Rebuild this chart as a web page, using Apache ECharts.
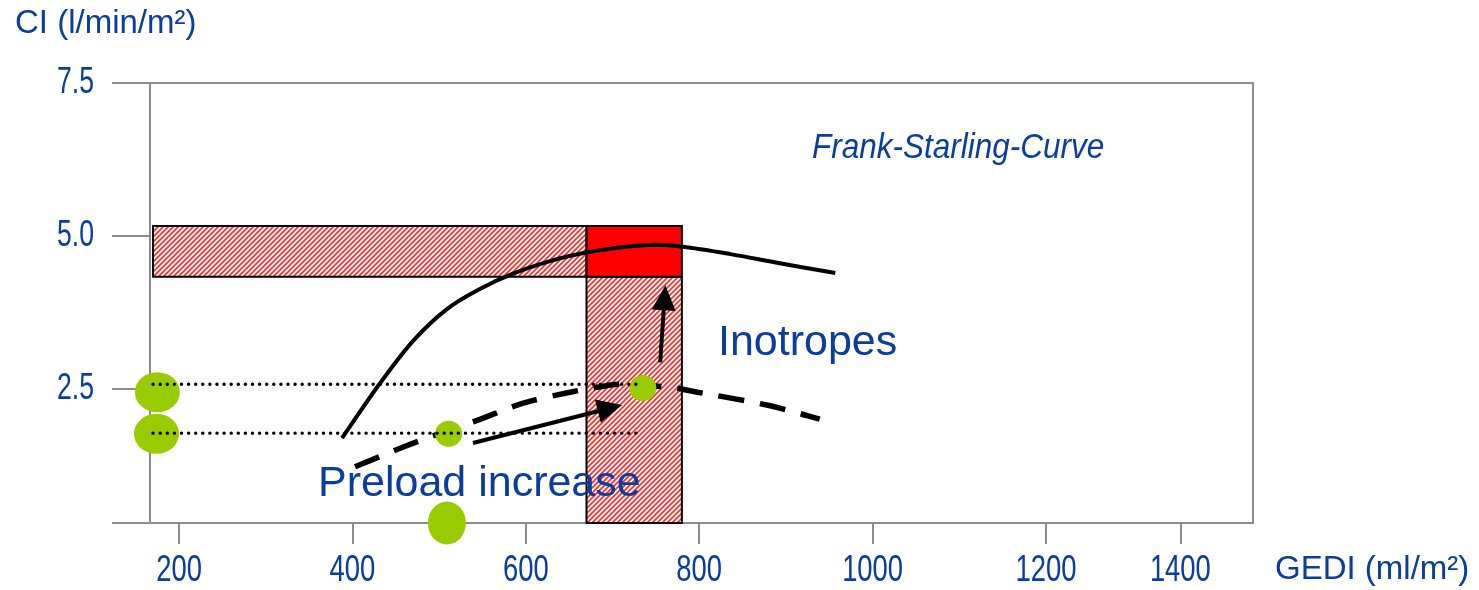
<!DOCTYPE html>
<html><head><meta charset="utf-8">
<script src="https://cdn.jsdelivr.net/npm/echarts@6/dist/echarts.min.js"></script>
<style>html,body{margin:0;padding:0;background:#fff}#c{width:1479px;height:590px}</style>
</head><body><div id="c"></div>
<script>
// ---- data ----
const gediTickValues = [200, 400, 600, 800, 1000, 1200, 1355];
const gediTickLabels = ['200', '400', '600', '800', '1000', '1200', '1400'];
const ciTickValues = [2.5, 5.0, 7.5];
const ciTickLabels = ['2.5', '5.0', '7.5'];

// Frank-Starling curve (normal contractility)
const normalGedi = [388, 432, 470, 509, 547, 585, 624, 671, 740, 781, 836, 893, 957];
const normalCI   = [1.69, 2.59, 3.28, 3.80, 4.13, 4.38, 4.57, 4.73, 4.85, 4.82, 4.70, 4.55, 4.39];
// depressed contractility curve (dashed)
const depressedGedi = [403, 458, 490, 544, 597, 651, 682, 712, 766, 798, 878, 939];
const depressedCI   = [1.22, 1.54, 1.71, 1.98, 2.26, 2.44, 2.52, 2.57, 2.52, 2.44, 2.23, 2.00];

// normal range boxes
const boxGediFrom = [170, 670, 670];
const boxGediTo   = [670, 780, 780];
const boxCIFrom   = [4.33, 0.3, 4.33];
const boxCITo     = [5.16, 4.33, 5.16];
const boxFill     = ['hatch', 'hatch', 'solid'];

// operating points
const pointGedi = [511, 735];
const pointCI   = [1.76, 2.51];
// projections on CI axis
const ciProjGedi = [175, 174];
const ciProjCI   = [2.44, 1.76];
// projection on GEDI axis
const gediProjGedi = [509];
const gediProjCI   = [0.3];

// dotted reference levels
const levelCI = [2.57, 1.77];
const levelGediFrom = [170, 170];
const levelGediTo = [735, 735];

// arrows
const arrowGediFrom = [539, 755];
const arrowCIFrom   = [1.61, 2.93];
const arrowGediTo   = [711, 761];
const arrowCITo     = [2.23, 4.19];

// ---- styling helpers ----
const BLUE = '#0a3d9c';
const GRAY = '#8c8c8c';
const GREEN = '#99cc00';
const SANS = "'Liberation Sans', Arial, sans-serif";

function hatchCanvas() {
  const p = 5;
  const c = document.createElement('canvas');
  c.width = p; c.height = p;
  const g = c.getContext('2d');
  g.fillStyle = '#ffffff'; g.fillRect(0, 0, p, p);
  g.strokeStyle = '#ff2a2a'; g.lineWidth = 1.6;
  g.beginPath();
  g.moveTo(-1, p + 1); g.lineTo(p + 1, -1);
  g.moveTo(-1, 1); g.lineTo(1, -1);
  g.moveTo(p - 1, p + 1); g.lineTo(p + 1, p - 1);
  g.stroke();
  return c;
}
const hatchPattern = { image: hatchCanvas(), repeat: 'repeat' };

const zip = (a, b) => a.map((v, i) => [v, b[i]]);

// Catmull-Rom spline through the projected points (drawing only)
function splinePath(pts) {
  let d = 'M' + pts[0][0] + ' ' + pts[0][1];
  for (let i = 0; i < pts.length - 1; i++) {
    const p0 = pts[Math.max(i - 1, 0)], p1 = pts[i], p2 = pts[i + 1], p3 = pts[Math.min(i + 2, pts.length - 1)];
    const c1 = [p1[0] + (p2[0] - p0[0]) / 6, p1[1] + (p2[1] - p0[1]) / 6];
    const c2 = [p2[0] - (p3[0] - p1[0]) / 6, p2[1] - (p3[1] - p1[1]) / 6];
    d += ' C' + c1[0] + ' ' + c1[1] + ' ' + c2[0] + ' ' + c2[1] + ' ' + p2[0] + ' ' + p2[1];
  }
  return d;
}
function curveSeries(xs, ys, lineStyle) {
  return {
    type: 'custom', z: 4, silent: true,
    encode: { x: 0, y: 1 },
    data: [[xs[0], ys[0]]],
    renderItem: (params, api) => {
      const pts = xs.map((x, i) => api.coord([x, ys[i]]));
      return { type: 'path', shape: { pathData: splinePath(pts) }, style: Object.assign({ fill: 'none', stroke: '#000' }, lineStyle) };
    }
  };
}

const boxData = boxGediFrom.map((v, i) => [v, boxGediTo[i], boxCIFrom[i], boxCITo[i]]);
const levelSeries = levelCI.map((c, i) => ({
  type: 'line', z: 6, symbol: 'none', silent: true,
  data: [[levelGediFrom[i], c], [levelGediTo[i], c]],
  lineStyle: { color: '#000', width: 3.4, type: [0.1, 7], cap: 'round' }
}));
const arrowData = arrowGediFrom.map((v, i) => [v, arrowCIFrom[i], arrowGediTo[i], arrowCITo[i]]);

const baseGraphic = [
  { type: 'text', left: 15, top: 7, style: { text: 'CI (l/min/m²)', fill: BLUE, font: '33px ' + SANS } },
  { type: 'text', left: 1275, top: 553, style: { text: 'GEDI (ml/m²)', fill: BLUE, font: '33px ' + SANS } },
  { type: 'text', x: 812, y: 148, scaleX: 0.9, style: { text: 'Frank-Starling-Curve', x: 0, y: 0, verticalAlign: 'middle', fill: BLUE, font: 'italic 35px ' + SANS } },
  { type: 'text', left: 718, top: 322, z: 20, style: { text: 'Inotropes', fill: BLUE, font: '43px ' + SANS } },
  { type: 'text', left: 318, top: 463, z: 20, style: { text: 'Preload increase', fill: BLUE, font: '43px ' + SANS } }
];

const option = {
  animation: false,
  backgroundColor: '#ffffff',
  grid: { left: 150, right: 226, top: 83, bottom: 67, show: true, borderColor: GRAY, borderWidth: 2, backgroundColor: 'transparent' },
  xAxis: {
    type: 'value', min: 166.5, max: 1438.8,
    axisLine: { show: true, lineStyle: { color: GRAY, width: 2 } },
    axisTick: { show: true, length: 21, lineStyle: { color: GRAY, width: 2 }, customValues: gediTickValues },
    axisLabel: { show: false },
    splitLine: { show: false }
  },
  yAxis: {
    type: 'value', min: 0.3, max: 7.5,
    axisLine: { show: true, lineStyle: { color: GRAY, width: 2 } },
    axisTick: { show: true, length: 38, lineStyle: { color: GRAY, width: 2 }, customValues: [0.3].concat(ciTickValues) },
    axisLabel: { show: false },
    splitLine: { show: false }
  },
  graphic: baseGraphic,
  series: [
    {
      type: 'custom', z: 2, silent: true,
      encode: { x: [0, 1], y: [2, 3] },
      data: boxData,
      renderItem: (params, api) => {
        const p0 = api.coord([api.value(0), api.value(3)]);
        const p1 = api.coord([api.value(1), api.value(2)]);
        return {
          type: 'rect',
          shape: { x: p0[0], y: p0[1], width: p1[0] - p0[0], height: p1[1] - p0[1] },
          style: { fill: boxFill[params.dataIndex] === 'solid' ? '#ff0000' : hatchPattern, stroke: '#000', lineWidth: 2 }
        };
      }
    },
    curveSeries(normalGedi, normalCI, { lineWidth: 4 }),
    curveSeries(depressedGedi, depressedCI, { lineWidth: 5.5, lineDash: [26, 16] }),
    {
      type: 'scatter', z: 5, silent: true, symbol: 'circle', symbolSize: [45, 40],
      data: zip(ciProjGedi, ciProjCI), itemStyle: { color: GREEN, opacity: 1 }
    },
    {
      type: 'scatter', z: 5, silent: true, symbol: 'circle', symbolSize: [38, 43], clip: false,
      data: zip(gediProjGedi, gediProjCI), itemStyle: { color: GREEN, opacity: 1 }
    },
    {
      type: 'scatter', z: 5, silent: true, symbol: 'circle', symbolSize: [27, 26],
      data: zip(pointGedi, pointCI), itemStyle: { color: GREEN, opacity: 1 }
    },
    ...levelSeries,
    {
      type: 'custom', z: 8, silent: true,
      encode: { x: [0, 2], y: [1, 3] },
      data: arrowData,
      renderItem: (params, api) => {
        const a = api.coord([api.value(0), api.value(1)]);
        const b = api.coord([api.value(2), api.value(3)]);
        const dx = b[0] - a[0], dy = b[1] - a[1];
        const len = Math.sqrt(dx * dx + dy * dy);
        const ux = dx / len, uy = dy / len;
        const hl = 25, hw = 12;
        const base = [b[0] - ux * hl, b[1] - uy * hl];
        return {
          type: 'group',
          children: [
            { type: 'line', shape: { x1: a[0], y1: a[1], x2: base[0] + ux * 2, y2: base[1] + uy * 2 }, style: { stroke: '#000', lineWidth: 4 } },
            { type: 'polygon', shape: { points: [b, [base[0] - uy * hw, base[1] + ux * hw], [base[0] + uy * hw, base[1] - ux * hw]] }, style: { fill: '#000' } }
          ]
        };
      }
    }
  ]
};
const chart = echarts.init(document.getElementById('c'));
chart.setOption(option);

// condensed tick labels placed through the axes' own scales
const axisBottom = chart.convertToPixel({ yAxisIndex: 0 }, 0.3);
const axisLeft = chart.convertToPixel({ xAxisIndex: 0 }, 166.5);
const xLabels = gediTickValues.map((v, i) => ({
  type: 'text', x: chart.convertToPixel({ xAxisIndex: 0 }, v), y: axisBottom + 48, scaleX: 0.74, silent: true,
  style: { text: gediTickLabels[i], x: 0, y: 0, align: 'center', verticalAlign: 'middle', fill: BLUE, font: '37px ' + SANS }
}));
const yLabels = ciTickValues.map((v, i) => ({
  type: 'text', x: axisLeft - 56, y: chart.convertToPixel({ yAxisIndex: 0 }, v), scaleX: 0.72, silent: true,
  style: { text: ciTickLabels[i], x: 0, y: 0, align: 'right', verticalAlign: 'middle', fill: BLUE, font: '37px ' + SANS }
}));
chart.setOption({ graphic: baseGraphic.concat(xLabels, yLabels) });
</script>
</body></html>
